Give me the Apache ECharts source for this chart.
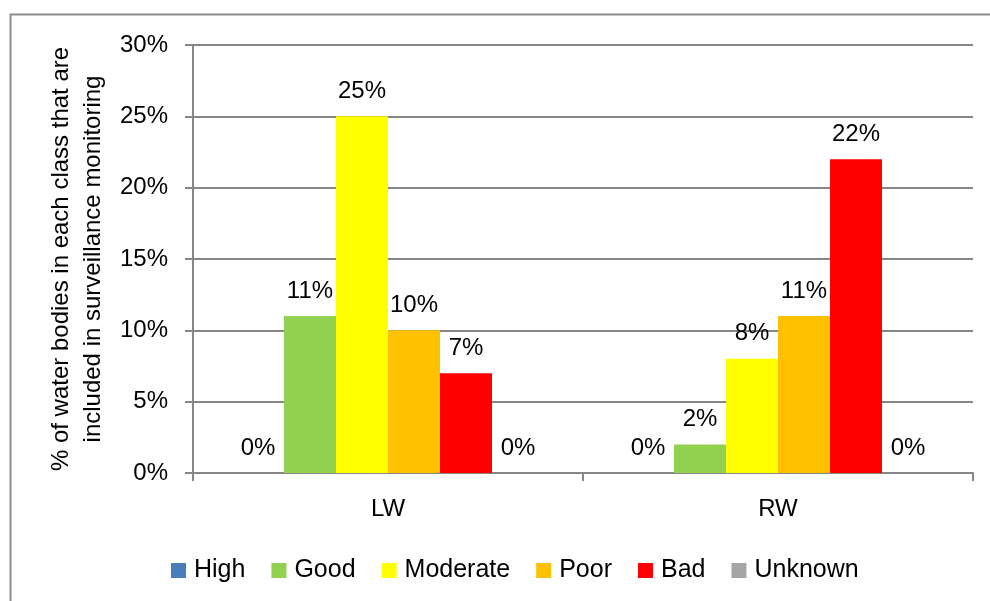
<!DOCTYPE html>
<html>
<head>
<meta charset="utf-8">
<script src="https://cdn.jsdelivr.net/npm/echarts@6/dist/echarts.min.js"></script>
<style>
  html, body { margin: 0; padding: 0; background: #fff; }
  #chart { width: 990px; height: 601px; }
</style>
</head>
<body>
<div id="chart"></div>
<script>
var categories = ['LW', 'RW'];
var classNames = ['High', 'Good', 'Moderate', 'Poor', 'Bad', 'Unknown'];
var classColors = ['#4A7EBB', '#92D050', '#FFFF00', '#FFC000', '#FF0000', '#A5A5A5'];
// percent values per class, [LW, RW]
var highVals = [0, 0];
var goodVals = [11, 2];
var moderateVals = [25, 8];
var poorVals = [10, 11];
var badVals = [7, 22];
var unknownVals = [0, 0];
var yTicks = [0, 5, 10, 15, 20, 25, 30];

var allVals = [highVals, goodVals, moderateVals, poorVals, badVals, unknownVals];
var fontName = 'Liberation Sans';

var chart = echarts.init(document.getElementById('chart'));

var series = [];
for (var i = 0; i < classNames.length; i++) {
    series.push({
        name: classNames[i],
        type: 'bar',
        data: allVals[i],
        barGap: '0%',
        barCategoryGap: '20%',
        itemStyle: { color: classColors[i] },
        label: {
            show: true,
            position: 'top',
            distance: 13,
            formatter: '{c}%',
            color: '#000',
            fontFamily: fontName,
            fontSize: 24
        }
    });
}

var option = {
    backgroundColor: '#fff',
    animation: false,
    graphic: [{
        type: 'rect',
        shape: { x: 10.5, y: 14.5, width: 1000, height: 700 },
        style: { fill: 'none', stroke: '#8c8c8c', lineWidth: 2 }
    }],
    legend: {
        left: 166,
        top: 553,
        itemWidth: 15,
        itemHeight: 15,
        itemGap: 26,
        icon: 'rect',
        textStyle: { fontFamily: fontName, fontSize: 25, color: '#000', padding: [0, 0, 0, 3] },
        data: classNames
    },
    grid: { left: 193, right: 17, top: 45, bottom: 128 },
    xAxis: {
        type: 'category',
        data: categories,
        axisLine: { lineStyle: { color: '#868686', width: 2 } },
        axisTick: { show: true, length: 8, lineStyle: { color: '#868686', width: 2 } },
        axisLabel: { margin: 24, color: '#000', fontFamily: fontName, fontSize: 24 }
    },
    yAxis: {
        type: 'value',
        min: yTicks[0],
        max: yTicks[yTicks.length - 1],
        interval: 5,
        name: '% of water bodies in each class that are\nincluded in surveillance monitoring',
        nameLocation: 'middle',
        nameGap: 77,
        nameRotate: 90,
        nameTextStyle: { fontFamily: fontName, fontSize: 24, color: '#000', lineHeight: 32 },
        axisLine: { show: true, lineStyle: { color: '#868686', width: 2 } },
        axisTick: { show: true, length: 8, lineStyle: { color: '#868686', width: 2 } },
        axisLabel: { formatter: '{value}%', margin: 25, color: '#000', fontFamily: fontName, fontSize: 24 },
        splitLine: { lineStyle: { color: '#868686', width: 2 } }
    },
    series: series
};

chart.setOption(option);
</script>
</body>
</html>
